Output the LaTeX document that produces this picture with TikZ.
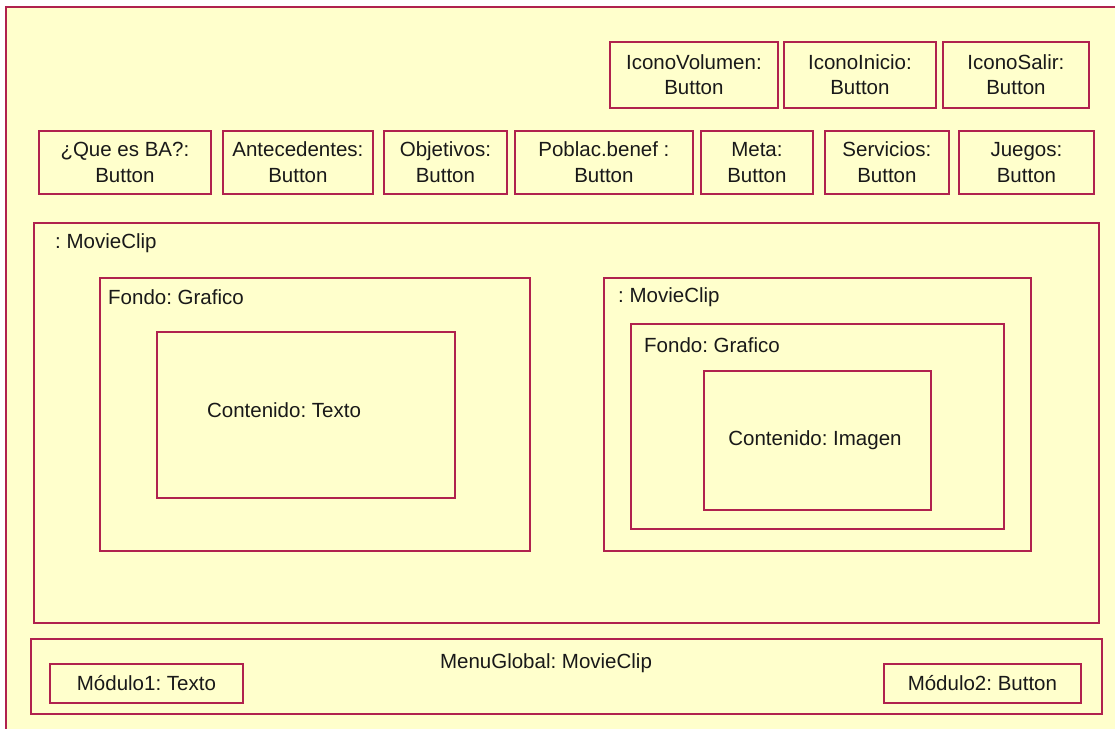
\documentclass[tikz,border=0pt]{standalone}
\usepackage{fontspec}
\setmainfont{Liberation Sans}
\frenchspacing
\definecolor{bord}{RGB}{176,34,78}
\definecolor{fillc}{RGB}{255,255,204}
\begin{document}
\frenchspacing
\begin{tikzpicture}[x=1pt,y=-1pt,
  every node/.style={font=\fontsize{20.5}{25.5}\selectfont\frenchspacing, text=black!90},
  box/.style={draw=bord, fill=fillc, line width=1.8pt, inner sep=0pt, anchor=north west, align=center},
  lbl/.style={inner sep=0pt, anchor=west}]
\useasboundingbox (0,0) rectangle (1115,728);
\clip (0,0) rectangle (1115,728);
\fill[white] (0,0) rectangle (1115,728);
% outer frame (cropped at right and bottom)
\draw[draw=bord, fill=fillc, line width=1.8pt] (6,7) rectangle (1130,745);
% top row icons
\node[box, minimum width=168pt, minimum height=66pt] (vol) at (609,41) {IconoVolumen:\\Button};
\node[box, minimum width=152pt, minimum height=66pt] (ini) at (783,41) {IconoInicio:\\Button};
\node[box, minimum width=146pt, minimum height=66pt] (sal) at (942,41) {IconoSalir:\\Button};
% second row buttons
\node[box, minimum width=172pt, minimum height=63pt] (que) at (38,130) {¿Que es BA?:\\Button};
\node[box, minimum width=150pt, minimum height=63pt] (ant) at (222,130) {Antecedentes:\\Button};
\node[box, minimum width=123pt, minimum height=63pt] (obj) at (383,130) {Objetivos:\\Button};
\node[box, minimum width=178pt, minimum height=63pt] (pob) at (514,130) {Poblac.benef :\\Button};
\node[box, minimum width=112pt, minimum height=63pt] (meta) at (700,130) {Meta:\\Button};
\node[box, minimum width=124pt, minimum height=63pt] (serv) at (824,130) {Servicios:\\Button};
\node[box, minimum width=135pt, minimum height=63pt] (jue) at (958,130) {Juegos:\\Button};
% big movie clip
\node[box, minimum width=1065pt, minimum height=400pt] (mc) at (33,222) {};
\node[lbl] (mct) at (55,243) {: MovieClip};
% left fondo
\node[box, minimum width=430pt, minimum height=273pt] (fl) at (99,277) {};
\node[lbl] (flt) at (108,297) {Fondo: Grafico};
\node[box, minimum width=298pt, minimum height=166pt] (cl) at (156,331) {};
\node[inner sep=0pt] (clt) at (284,410) {Contenido: Texto};
% right movie clip
\node[box, minimum width=427pt, minimum height=273pt] (mcr) at (603,277) {};
\node[lbl] (mcrt) at (618,297) {: MovieClip};
\node[box, minimum width=373pt, minimum height=205pt] (fr) at (630,323) {};
\node[lbl] (frt) at (644,345) {Fondo: Grafico};
\node[box, minimum width=227pt, minimum height=139pt] (cr) at (703,370) {};
\node[inner sep=0pt] (crt) at (815,440) {Contenido: Imagen};
% menu global
\node[box, minimum width=1071pt, minimum height=75pt] (mg) at (30,638) {};
\node[inner sep=0pt] (mgt) at (546,663) {MenuGlobal: MovieClip};
\node[box, minimum width=193pt, minimum height=39pt] (m1) at (49,663) {Módulo1: Texto};
\node[box, minimum width=197pt, minimum height=39pt] (m2) at (883,663) {Módulo2: Button};
\end{tikzpicture}
\end{document}
